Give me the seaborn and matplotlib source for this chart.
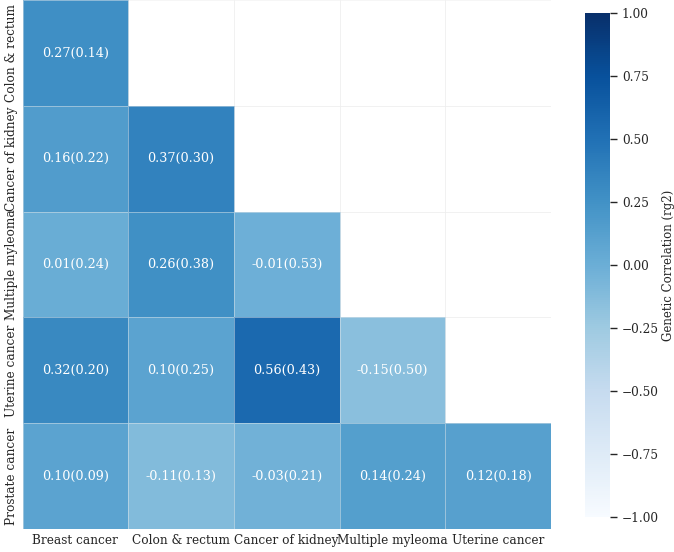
import numpy as np
import pandas as pd
import matplotlib
matplotlib.use("Agg")
import matplotlib.pyplot as plt
import seaborn as sns

# Datos de correlacion genetica (rg) y error estandar
row_labels = ["Colon & rectum", "Cancer of kidney", "Multiple myleoma", "Uterine cancer", "Prostate cancer"]
col_labels = ["Breast cancer", "Colon & rectum", "Cancer of kidney", "Multiple myleoma", "Uterine cancer"]

rg = [
    [0.27, np.nan, np.nan, np.nan, np.nan],
    [0.16, 0.37, np.nan, np.nan, np.nan],
    [0.01, 0.26, -0.01, np.nan, np.nan],
    [0.32, 0.10, 0.56, -0.15, np.nan],
    [0.10, -0.11, -0.03, 0.14, 0.12],
]
se = [
    [0.14, np.nan, np.nan, np.nan, np.nan],
    [0.22, 0.30, np.nan, np.nan, np.nan],
    [0.24, 0.38, 0.53, np.nan, np.nan],
    [0.20, 0.25, 0.43, 0.50, np.nan],
    [0.09, 0.13, 0.21, 0.24, 0.18],
]

df = pd.DataFrame(rg, index=row_labels, columns=col_labels)
df_se = pd.DataFrame(se, index=row_labels, columns=col_labels)

labels = df.copy().astype(object)
for i in range(len(row_labels)):
    for j in range(len(col_labels)):
        if pd.isna(df.iloc[i, j]):
            labels.iloc[i, j] = ""
        else:
            labels.iloc[i, j] = f"{df.iloc[i, j]:.2f}({df_se.iloc[i, j]:.2f})"

mask = df.isna()

sns.set_theme(style="white", font="DejaVu Serif")
plt.rcParams['font.family'] = ['DejaVu Serif']

fig = plt.figure(figsize=(6.74, 5.52), dpi=100)
ax = fig.add_axes([0.0334, 0.0417, 0.784, 0.958])
cax = fig.add_axes([0.868, 0.0634, 0.0371, 0.913])

sns.heatmap(df, mask=mask, annot=labels.values, fmt="", cmap="Blues", vmin=-1, vmax=1,
            linewidths=0.6, linecolor=(0.93, 0.93, 0.93, 0.45), ax=ax, cbar_ax=cax,
            annot_kws={"fontsize": 9.2, "color": "white"})

ax.set_xticklabels(col_labels, rotation=0, fontsize=8.7)
ax.set_yticklabels(row_labels, rotation=90, va="center", fontsize=8.7)
ax.tick_params(length=0)

cax.tick_params(labelsize=8.7, length=5, width=1)
cax.set_ylabel("Genetic Correlation (rg2)", fontsize=8.5, labelpad=2)

plt.savefig("out.png", dpi=100)
